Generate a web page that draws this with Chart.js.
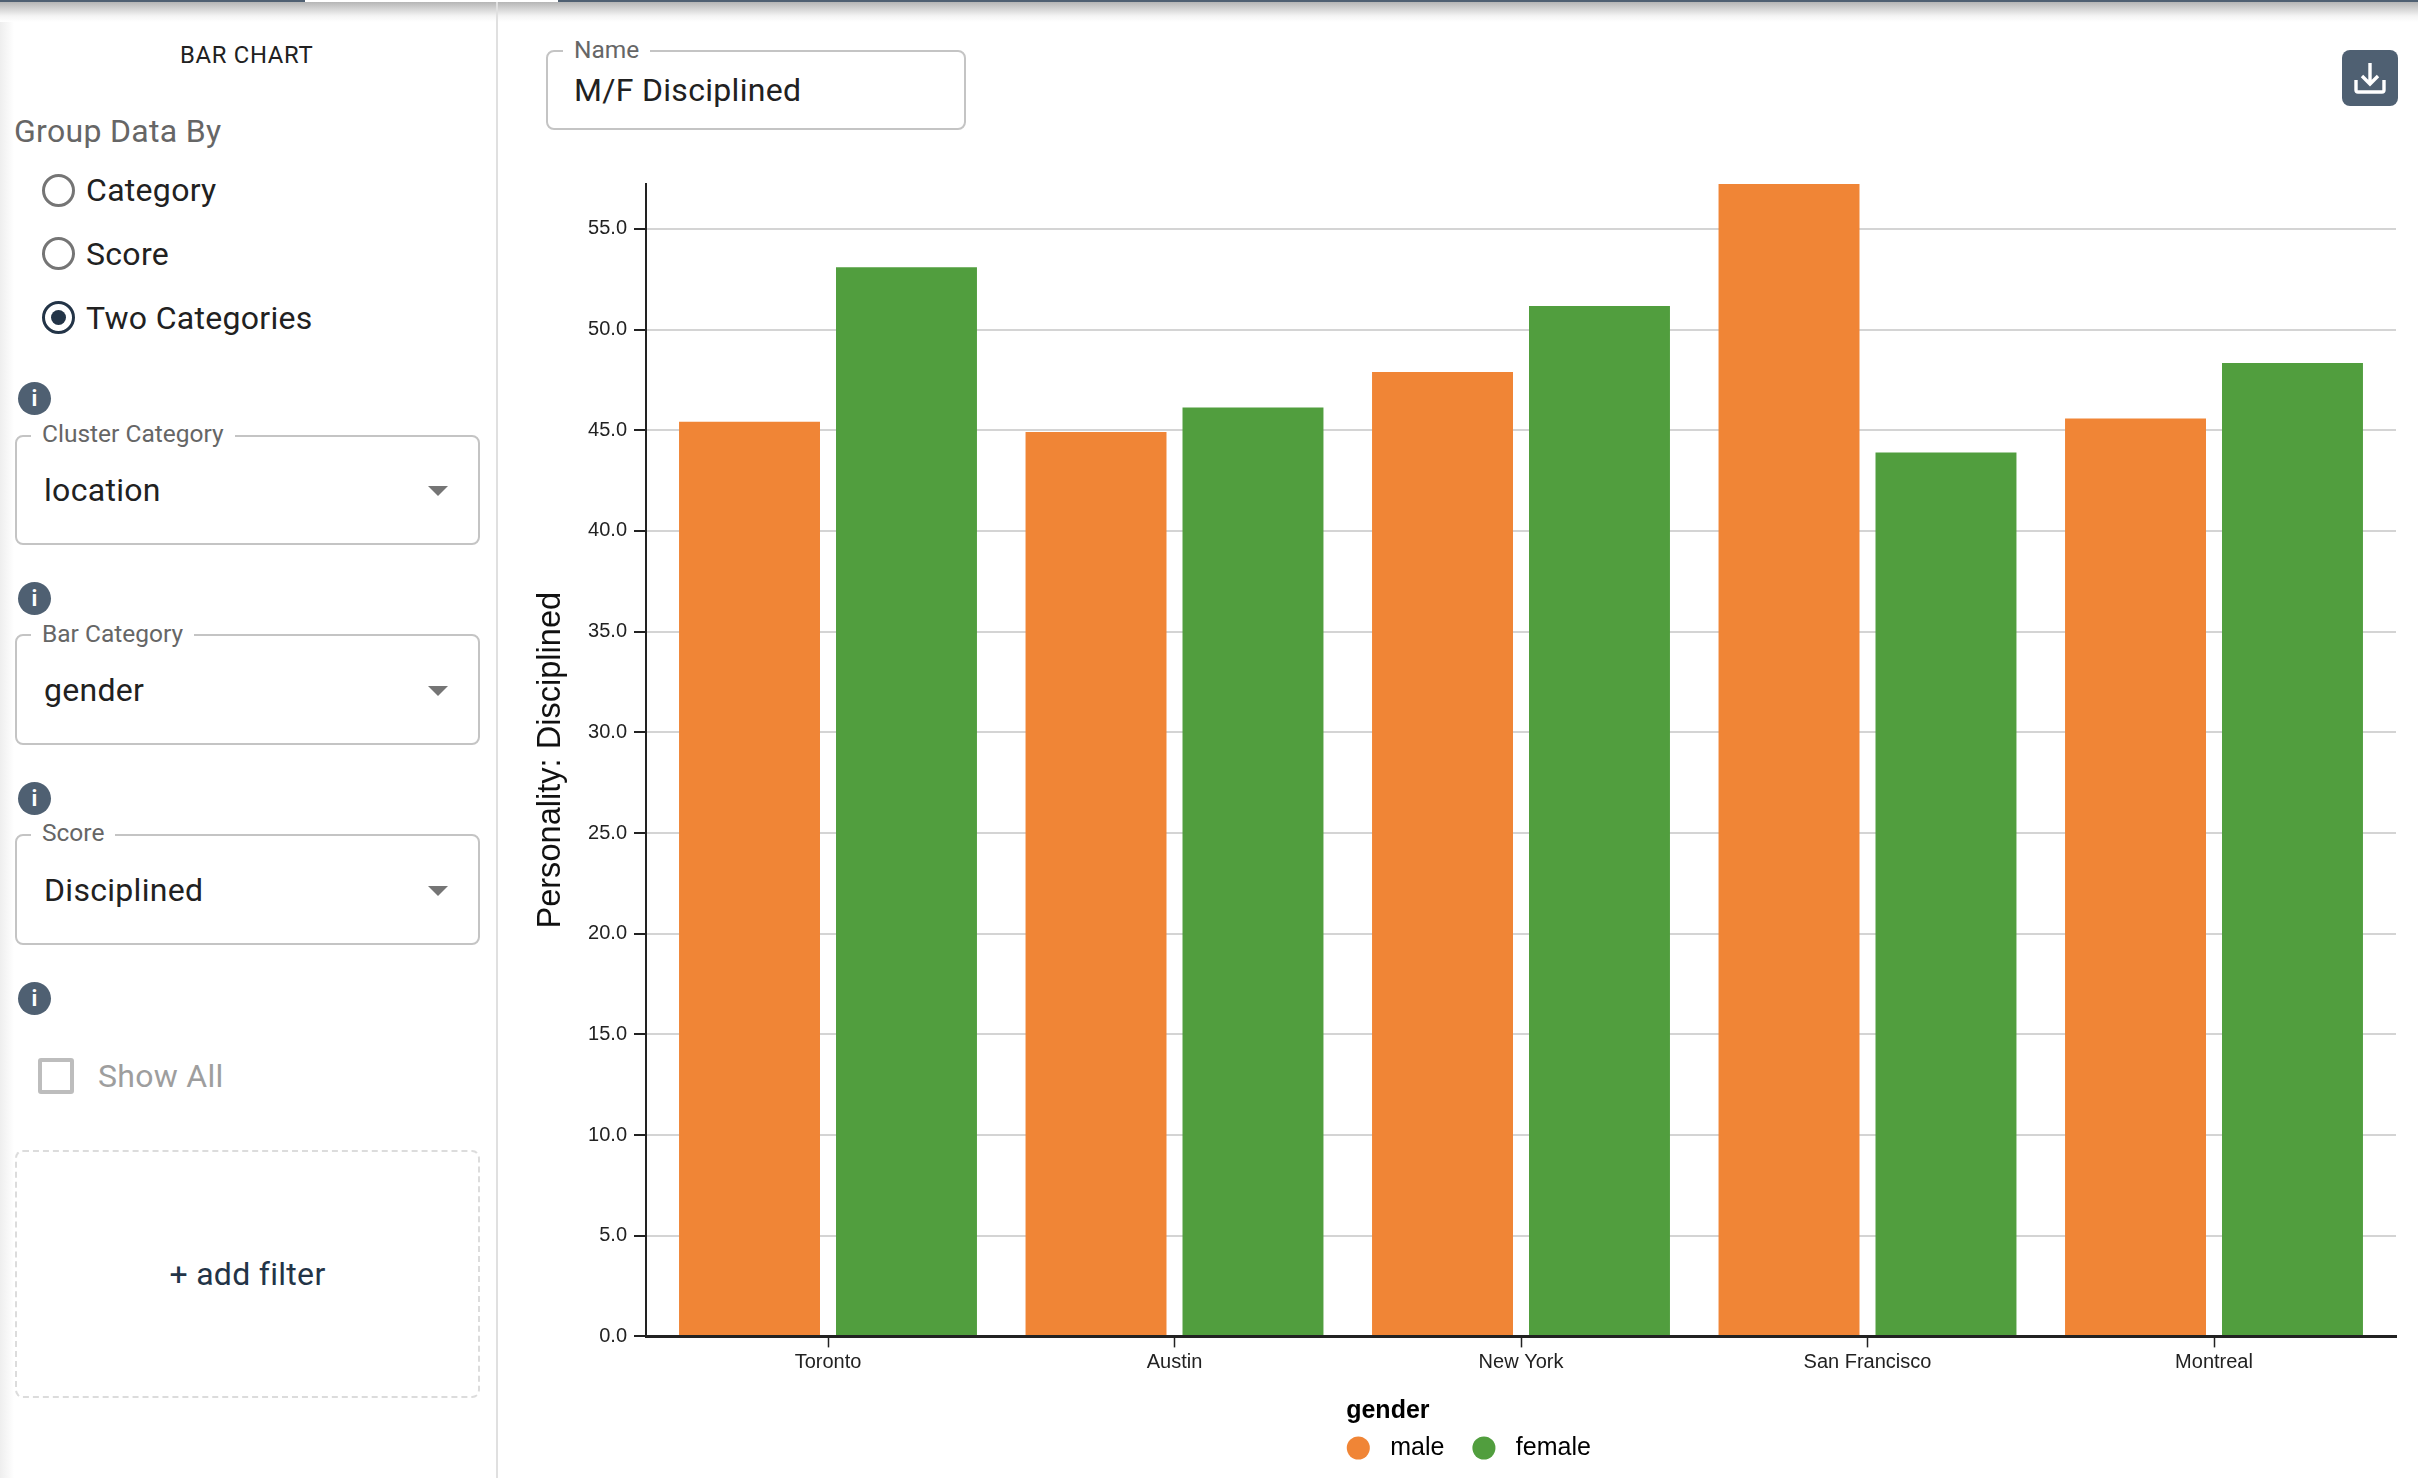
<!DOCTYPE html>
<html>
<head>
<meta charset="utf-8">
<title>M/F Disciplined</title>
<script src="https://cdn.jsdelivr.net/npm/chart.js@4"></script>
<style>
  html, body { margin: 0; width: 2418px; height: 1478px; background: #fff; overflow: hidden; font-family: Roboto, sans-serif; color: #212121; }
  .abs { position: absolute; white-space: nowrap; }
  .topbar { left: 0; top: 0; width: 2418px; height: 2px; background: #4f6072; }
  .toptab { left: 305px; top: 0; width: 253px; height: 2px; background: #fff; }
  .topshade { left: 0; top: 2px; width: 2418px; height: 20px; background: linear-gradient(#b5b5b5, #f4f4f4 70%, #fff); }
  .sideshade { left: 0; top: 20px; width: 14px; height: 1458px; background: linear-gradient(90deg, #eeeeee, #fff); }
  .divider { left: 496px; top: 2px; width: 2px; height: 1476px; background: #e0e0e0; }
  .text { font-size: 32px; letter-spacing: 0.3px; line-height: 40px; height: 40px; }
  .radio { left: 41.5px; width: 33px; height: 33px; box-sizing: border-box; border: 3px solid #757575; border-radius: 50%; }
  .radio.on { border-color: #233447; }
  .radio.on::after { content: ""; position: absolute; left: 6px; top: 6px; width: 15px; height: 15px; border-radius: 50%; background: #233447; }
  .info { left: 18px; width: 33px; height: 33px; border-radius: 50%; background: #4f6072; color: #fff; font: bold 22px/33px Roboto, sans-serif; text-align: center; }
  .box { box-sizing: border-box; border: 2px solid #c4c4c4; border-radius: 8px; }
  .legend { font-size: 24.5px; line-height: 28px; color: #666; background: #fff; padding: 0 11px; }
  .arrow { left: 428px; width: 0; height: 0; border-left: 10px solid transparent; border-right: 10px solid transparent; border-top: 10px solid #757575; }
  canvas { position: absolute; left: 530px; top: 140px; }
</style>
</head>
<body>
<div class="abs sideshade"></div>
<div class="abs topshade"></div>
<div class="abs topbar"></div>
<div class="abs toptab"></div>
<div class="abs divider"></div>

<div class="abs" style="left:180px;top:41px;font-size:23.8px;line-height:28px;letter-spacing:0.7px">BAR CHART</div>
<div class="abs text" style="left:14px;top:111px;color:#666">Group Data By</div>
<div class="abs radio" style="top:174px"></div>
<div class="abs text" style="left:86px;top:170px">Category</div>
<div class="abs radio" style="top:237px"></div>
<div class="abs text" style="left:86px;top:234px">Score</div>
<div class="abs radio on" style="top:301px"></div>
<div class="abs text" style="left:86px;top:298px">Two Categories</div>

<div class="abs info" style="top:382px">i</div>
<div class="abs box" style="left:15px;top:435px;width:465px;height:110px"></div>
<div class="abs legend" style="left:31px;top:420px">Cluster Category</div>
<div class="abs text" style="left:44px;top:470px">location</div>
<div class="abs arrow" style="top:486px"></div>

<div class="abs info" style="top:582px">i</div>
<div class="abs box" style="left:15px;top:634px;width:465px;height:111px"></div>
<div class="abs legend" style="left:31px;top:620px">Bar Category</div>
<div class="abs text" style="left:44px;top:670px">gender</div>
<div class="abs arrow" style="top:686px"></div>

<div class="abs info" style="top:782px">i</div>
<div class="abs box" style="left:15px;top:834px;width:465px;height:111px"></div>
<div class="abs legend" style="left:31px;top:819px">Score</div>
<div class="abs text" style="left:44px;top:870px">Disciplined</div>
<div class="abs arrow" style="top:886px"></div>

<div class="abs info" style="top:982px">i</div>
<div class="abs" style="left:38px;top:1058px;width:36px;height:36px;box-sizing:border-box;border:4px solid #bdbdbd;border-radius:3px"></div>
<div class="abs text" style="left:98px;top:1056px;color:#9e9e9e">Show All</div>

<div class="abs" style="left:15px;top:1150px;width:465px;height:248px;box-sizing:border-box;border:2px dashed #dcdcdc;border-radius:8px"></div>
<div class="abs text" style="left:15px;top:1254px;width:465px;text-align:center;color:#233447">+ add filter</div>

<div class="abs box" style="left:546px;top:50px;width:420px;height:80px"></div>
<div class="abs legend" style="left:563px;top:36px">Name</div>
<div class="abs text" style="left:574px;top:70px">M/F Disciplined</div>

<div class="abs" style="left:2342px;top:50px;width:56px;height:56px;border-radius:8px;background:#4f6072">
  <svg width="56" height="56" viewBox="0 0 56 56" fill="none" stroke="#fff" stroke-width="3.4">
    <path d="M14 30 V40 Q14 42 16 42 H40 Q42 42 42 40 V30"/>
    <path d="M28 13 V34 M20 26 L28 34 L36 26"/>
  </svg>
</div>

<canvas id="bar-chart" width="1884" height="1338"></canvas>

<script>
  const categories = ['Toronto', 'Austin', 'New York', 'San Francisco', 'Montreal'];
  const maleValues = [45.42, 44.92, 47.89, 57.23, 45.59];
  const femaleValues = [53.1, 46.13, 51.17, 43.9, 48.34];
  const seriesNames = ['male', 'female'];
  const seriesColors = ['#f08536', '#519e3e'];
  const yAxisMax = 57.23;
  const yTickStep = 5;
  const yAxisTitle = 'Personality: Disciplined';
  const legendTitle = 'gender';

  const chartFont = '"Liberation Sans", Arial, sans-serif';
  const axisColor = '#222';

  // the bands sit slightly inside the axis line in the original
  const bandInset = {
    id: 'bandInset',
    afterLayout(chart){
      const x = chart.scales.x;
      x._startPixel += 8.75;
      x._length -= 17.5;
      chart.legend.left += 4.6;
      chart.legend.right += 4.6;
    }
  };

  new Chart(document.getElementById('bar-chart'), {
    type: 'bar',
    plugins: [bandInset],
    data: {
      labels: categories,
      datasets: [
        { label: seriesNames[0], data: maleValues, backgroundColor: seriesColors[0] },
        { label: seriesNames[1], data: femaleValues, backgroundColor: seriesColors[1] }
      ]
    },
    options: {
      responsive: false,
      animation: false,
      devicePixelRatio: 1,
      categoryPercentage: 0.906,
      barPercentage: 0.898,
      layout: { padding: { top: 44, right: 18, bottom: 7.5, left: 1.5 } },
      font: { family: chartFont },
      scales: {
        x: {
          afterFit(s){ s.height = 62.6; },
          border: { color: axisColor, width: 3, z: 1 },
          grid: { offset: false, drawOnChartArea: false, drawTicks: true, tickLength: 11, tickColor: axisColor, tickWidth: 1.5 },
          ticks: { color: '#222', padding: 3, maxRotation: 0, font: { family: chartFont, size: 20 } }
        },
        y: {
          min: 0,
          max: yAxisMax,
          afterFit(s){ s.width = 114.5; },
          border: { color: axisColor, width: 2 },
          grid: { color: '#d4d4d4', lineWidth: 2, tickLength: 12, tickColor: axisColor, tickWidth: 2 },
          ticks: {
            stepSize: yTickStep,
            includeBounds: false,
            color: '#222',
            padding: 7,
            font: { family: chartFont, size: 20 },
            callback: v => v.toFixed(1)
          },
          title: { display: true, text: yAxisTitle, color: '#111', padding: 0, font: { family: chartFont, size: 32.6 } }
        }
      },
      plugins: {
        tooltip: { enabled: false },
        legend: {
          position: 'bottom',
          title: {
            display: true,
            text: '  ' + legendTitle,
            position: 'start',
            color: '#000',
            padding: { top: 0, bottom: -20.5 },
            font: { family: chartFont, size: 25, weight: 'bold' }
          },
          labels: {
            usePointStyle: true,
            pointStyle: 'circle',
            boxHeight: 16.3,
            padding: 27,
            color: '#000',
            font: { family: chartFont, size: 25 },
            generateLabels(chart){
              // small gap after the marker, wider than the library default
              const items = Chart.defaults.plugins.legend.labels.generateLabels(chart);
              items.forEach(i => { i.text = ' ' + i.text; });
              return items;
            }
          }
        }
      }
    }
  });
</script>
</body>
</html>
